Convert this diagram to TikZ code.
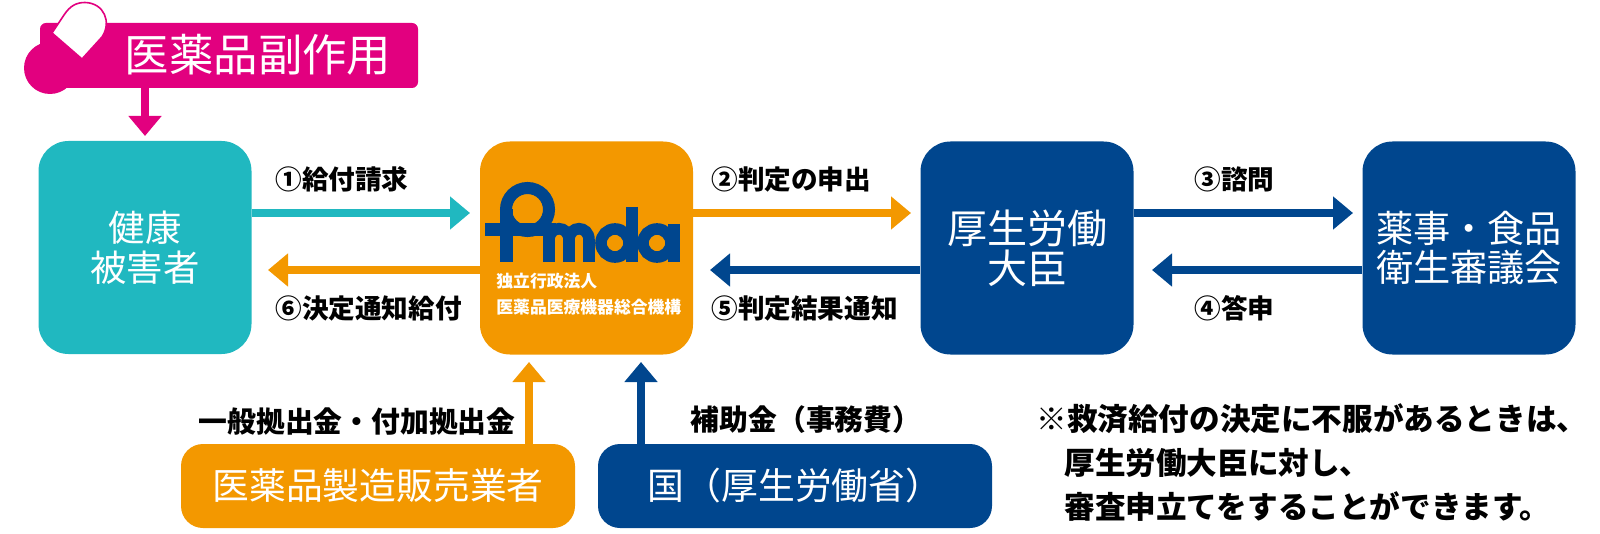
\documentclass[tikz,border=0pt]{standalone}
\usepackage{fontspec}
\usetikzlibrary{arrows.meta}
\setmainfont{Noto Sans CJK JP}
\definecolor{pinkc}{RGB}{226,0,127}
\definecolor{tealc}{RGB}{32,184,192}
\definecolor{orangec}{RGB}{243,152,0}
\definecolor{navyc}{RGB}{0,70,142}
\newcommand{\fs}[1]{\fontsize{#1pt}{#1pt}\selectfont}
\tikzset{
  x=0.5pt,y=-0.5pt,
  box/.style={rounded corners=15pt,text=white,align=center,inner sep=0pt,minimum width=106.5pt,minimum height=106.5pt,font=\fs{18.2}},
  wide/.style={rounded corners=11pt,text=white,align=center,inner sep=0pt,minimum width=197pt,minimum height=42pt,font=\fs{18.4}},
  conn/.style={line width=4.2pt,-{Triangle[length=10pt,width=16pt]}},
  lbl/.style={text=black,inner sep=0pt,font=\bfseries\fs{13.3}},
  note/.style={text=black,inner sep=0pt,anchor=west,font=\bfseries\fs{15.3}},
  logostroke/.style={navyc,line width=5.8pt},
}
\begin{document}
\begin{tikzpicture}
\useasboundingbox (0,0) rectangle (1600,534);
% boxes
\node[box,fill=tealc] (victim) at (145,247.5) {健康\\[2pt]被害者};
\node[box,fill=orangec] (pmda) at (586.5,248) {};
\node[box,fill=navyc,font=\fs{20}] (minister) at (1027,248) {厚生労働\\[0pt]大臣};
\node[box,fill=navyc,font=\fs{18.6}] (council) at (1469,248) {薬事・食品\\[1pt]衛生審議会};
\node[wide,fill=orangec] (makers) at (378,486) {医薬品製造販売業者};
\node[wide,fill=navyc] (state) at (795,486) {国（厚生労働省）};
% pink banner
\fill[pinkc] (50,68) circle[radius=26];
\node[rounded corners=3pt,fill=pinkc,minimum width=189pt,minimum height=32.5pt,inner sep=0pt] (effect) at (229,55.5) {};
\node[text=white,inner sep=0pt,font=\fs{22.2}] (effecttext) at (258,55) {医薬品副作用};
\fill[white,draw=pinkc,line width=0.8pt] (52,33) -- (82,59) -- (102,37)
  .. controls (112,22) and (104,3) .. (85,2.5)
  .. controls (76,2.5) and (70,6) .. (64,15) -- cycle;
% connector ends
\coordinate (t0) at (145,136);
\coordinate (t1) at (470,213);
\coordinate (t2) at (268,270);
\coordinate (t3) at (911,213);
\coordinate (t4) at (710,270);
\coordinate (t5) at (1353,213);
\coordinate (t6) at (1152,270);
\coordinate (t7) at (529,362);
\coordinate (t8) at (641,362);
% connectors
\draw[conn,pinkc] (effect.south -| t0) -- (t0);
\draw[conn,tealc] (victim.east |- t1) -- (t1);
\draw[conn,orangec] (pmda.west |- t2) -- (t2);
\draw[conn,orangec] (pmda.east |- t3) -- (t3);
\draw[conn,navyc] (minister.west |- t4) -- (t4);
\draw[conn,navyc] (minister.east |- t5) -- (t5);
\draw[conn,navyc] (council.west |- t6) -- (t6);
\draw[conn,orangec] (makers.north -| t7) -- (t7);
\draw[conn,navyc] (state.north -| t8) -- (t8);
% logo
\draw[logostroke,line width=6pt] (527.5,209.5) circle[radius=21.5];
\fill[navyc] (485,223) rectangle (556,236);
\fill[navyc] (500,209) rectangle (513,262);
\draw[logostroke] (549,262) -- (549,230);
\draw[logostroke] (549,240) .. controls (549,225) and (569,225) .. (569,240) -- (569,262);
\draw[logostroke] (569,240) .. controls (569,225) and (589,225) .. (589,240) -- (589,262);
\draw[logostroke] (615,243) circle[radius=14];
\draw[logostroke] (632,207) -- (632,262);
\draw[logostroke] (657,243) circle[radius=14];
\draw[logostroke] (674,224) -- (674,262);
\node[text=white,inner sep=0pt,anchor=west,font=\bfseries\fs{8.4}] (pm1) at (496,281) {独立行政法人};
\node[text=white,inner sep=0pt,anchor=west,font=\bfseries\fs{8.4}] (pm2) at (496,307) {医薬品医療機器総合機構};
% labels
\node[lbl,anchor=west] (l1) at (275,179) {①給付請求};
\node[lbl,anchor=west] (l6) at (275,308) {⑥決定通知給付};
\node[lbl,anchor=west] (l2) at (711,179) {②判定の申出};
\node[lbl,anchor=west] (l5) at (711,308) {⑤判定結果通知};
\node[lbl,anchor=west] (l3) at (1194,179) {③諮問};
\node[lbl,anchor=west] (l4) at (1194,308) {④答申};
\node[lbl,font=\bfseries\fs{14.4}] (l7) at (357,422) {一般拠出金・付加拠出金};
\node[lbl,font=\bfseries\fs{14.4}] (l8) at (806,420) {補助金（事務費）};
\node[note] (n1) at (1036,419) {※救済給付の決定に不服があるときは、};
\node[note] (n2) at (1064,463) {厚生労働大臣に対し、};
\node[note] (n3) at (1064,507) {審査申立てをすることができます。};
\end{tikzpicture}
\end{document}
